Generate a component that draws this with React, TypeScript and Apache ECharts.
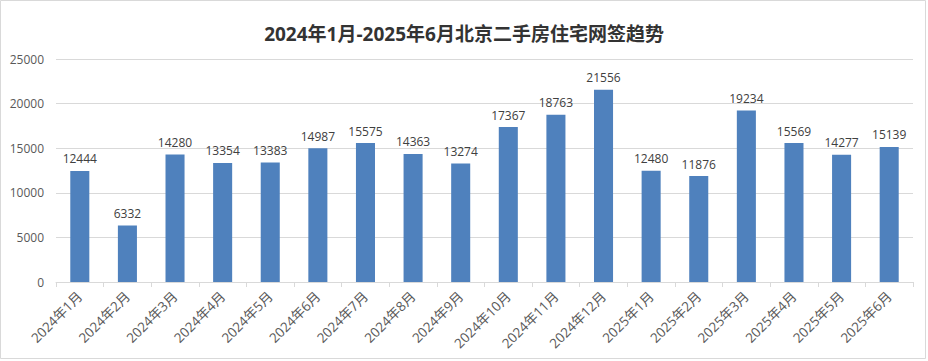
import React, { useEffect, useRef } from "react";
import * as echarts from "echarts";

const categories = [
  "2024年1月", "2024年2月", "2024年3月", "2024年4月", "2024年5月", "2024年6月",
  "2024年7月", "2024年8月", "2024年9月", "2024年10月", "2024年11月", "2024年12月",
  "2025年1月", "2025年2月", "2025年3月", "2025年4月", "2025年5月", "2025年6月",
];
const values = [
  12444, 6332, 14280, 13354, 13383, 14987, 15575, 14363, 13274, 17367, 18763, 21556,
  12480, 11876, 19234, 15569, 14277, 15139,
];
const titleText = "2024年1月-2025年6月北京二手房住宅网签趋势";

const FONT = "'Open Sans', 'Noto Sans CJK SC', sans-serif";

export default function App() {
  const ref = useRef<HTMLDivElement>(null);
  useEffect(() => {
    document.body.style.margin = "0";
    const chart = echarts.init(ref.current!, undefined, { renderer: "svg" });
    chart.setOption({
      animation: false,
      backgroundColor: "#ffffff",
      textStyle: { fontFamily: FONT },
      title: {
        text: titleText,
        left: "center",
        top: 19,
        textStyle: { fontSize: 19, fontWeight: "bold", color: "#333333", fontFamily: FONT },
      },
      graphic: [
        {
          type: "rect",
          shape: { x: 0.5, y: 0.5, width: 925, height: 358 },
          style: { fill: "none", stroke: "#d9d9d9", lineWidth: 1 },
          silent: true,
        },
      ],
      grid: { left: 56, right: 15, top: 59, bottom: 79, containLabel: false },
      xAxis: {
        type: "category",
        data: categories,
        axisLine: { lineStyle: { color: "#d9d9d9" } },
        axisTick: { show: true, length: 5, lineStyle: { color: "#d9d9d9" } },
        axisLabel: { rotate: 45, color: "#595959", fontSize: 13.5, interval: 0, margin: 12, fontFamily: FONT },
      },
      yAxis: {
        type: "value",
        min: 0,
        max: 25000,
        interval: 5000,
        axisLine: { show: false },
        axisTick: { show: false },
        splitLine: { lineStyle: { color: "#d9d9d9" } },
        axisLabel: {
          color: "#595959",
          fontSize: 12,
          margin: 12,
          fontFamily: FONT,
          formatter: (v: number) => String(v),
        },
      },
      series: [
        {
          type: "bar",
          data: values,
          barWidth: "40%",
          itemStyle: { color: "#4f81bd" },
          label: { show: true, position: "top", color: "#404040", fontSize: 12, distance: 6, fontFamily: FONT },
        },
      ],
    });
    return () => chart.dispose();
  }, []);
  return <div ref={ref} style={{ width: 928, height: 361 }} />;
}
